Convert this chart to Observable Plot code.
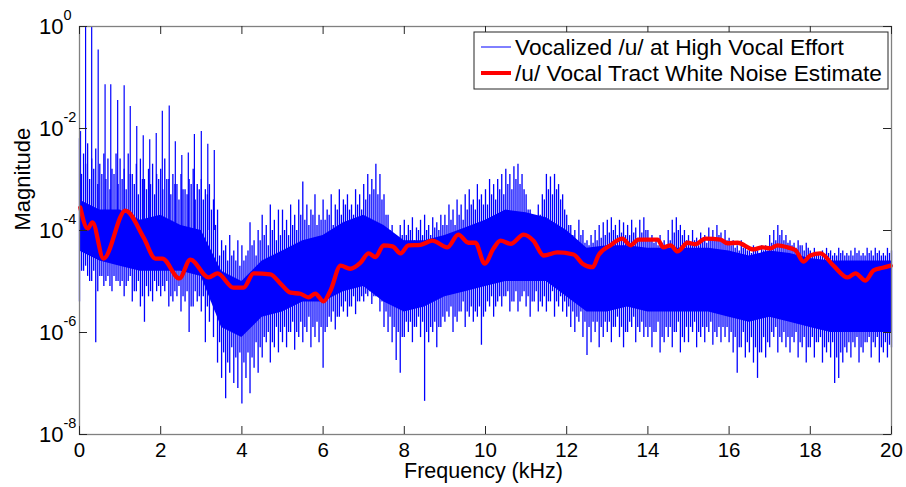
<!DOCTYPE html>
<html>
<head>
<meta charset="utf-8">
<script src="https://cdn.jsdelivr.net/npm/d3@7"></script>
<script src="https://cdn.jsdelivr.net/npm/@observablehq/plot@0.6"></script>
<style>
  html, body { margin: 0; padding: 0; background: #fff; }
  #chart svg { display: block; font-family: "Liberation Sans", Arial, sans-serif; }
</style>
</head>
<body>
<div id="chart"></div>
<script>
// ---------------- DATA (values are log10 of magnitude) ----------------
const xTicks = [0, 2, 4, 6, 8, 10, 12, 14, 16, 18, 20];
const yTickExponents = [0, -2, -4, -6, -8];
const seriesNames = ["Vocalized /u/ at High Vocal Effort", "/u/ Vocal Tract White Noise Estimate"];

// dense core band of the spectrum, sampled every 0.5 kHz (0 ... 20 kHz)
const coreFreq = [0,0.5,1,1.5,2,2.5,3,3.5,4,4.5,5,5.5,6,6.5,7,7.5,8,8.5,9,9.5,10,10.5,11,11.5,12,12.5,13,13.5,14,14.5,15,15.5,16,16.5,17,17.5,18,18.5,19,19.5,20];
const coreHiLog = [-3.4,-3.6,-3.6,-3.8,-3.7,-3.9,-4.0,-4.8,-5.0,-4.6,-4.4,-4.2,-4.1,-3.85,-3.7,-3.9,-4.2,-4.2,-4.1,-3.95,-3.8,-3.6,-3.65,-3.75,-4.0,-4.35,-4.3,-4.3,-4.35,-4.35,-4.35,-4.35,-4.4,-4.5,-4.4,-4.45,-4.55,-4.6,-4.6,-4.6,-4.6];
const coreLoLog = [-4.4,-4.6,-4.7,-4.8,-4.8,-4.8,-4.9,-5.9,-6.1,-5.7,-5.6,-5.4,-5.4,-5.2,-5.1,-5.4,-5.6,-5.5,-5.3,-5.2,-5.1,-5.0,-5.0,-5.0,-5.3,-5.6,-5.6,-5.5,-5.6,-5.6,-5.6,-5.6,-5.7,-5.8,-5.7,-5.8,-5.9,-6.0,-6.0,-6.0,-6.0];

// tallest spike extremes every 0.1 kHz (0.0 ... 20.0 kHz)
const spikeTopLog = [
  -2.2,-2.5,-2.3,-2.6,-2.4,-2.7,-2.5,-2.6,-2.8,-2.5,
  -2.6,-2.8,-2.5,-2.9,-2.7,-2.6,-3.0,-2.8,-2.7,-2.9,
  -2.8,-2.6,-3.0,-2.9,-3.1,-2.9,-3.2,-3.0,-2.8,-3.1,
  -3.0,-3.2,-3.1,-3.4,-3.6,-4.2,-4.3,-4.1,-4.4,-4.2,
  -4.3,-4.5,-3.85,-4.2,-4.0,-3.7,-3.9,-3.5,-3.8,-3.6,
  -3.6,-3.8,-3.5,-3.7,-3.4,-3.05,-3.5,-3.6,-3.3,-3.7,
  -3.4,-3.6,-3.3,-3.5,-3.2,-3.4,-3.3,-3.5,-3.2,-3.3,
  -3.1,-2.9,-3.0,-2.7,-2.9,-3.3,-3.7,-3.9,-4.1,-3.9,
  -3.8,-3.9,-3.75,-3.95,-3.8,-3.7,-3.9,-3.75,-3.85,-3.7,
  -3.7,-3.5,-3.6,-3.4,-3.5,-3.3,-3.2,-3.4,-3.1,-3.3,
  -3.2,-3.0,-3.1,-3.0,-2.9,-2.8,-2.9,-2.75,-2.7,-2.9,
  -3.3,-3.6,-3.8,-3.5,-3.3,-2.9,-2.95,-2.9,-3.1,-3.3,
  -3.7,-3.9,-4.0,-3.8,-4.0,-4.2,-4.1,-4.0,-3.9,-3.85,
  -3.8,-3.75,-3.9,-3.8,-3.85,-3.9,-3.8,-3.95,-3.8,-3.75,
  -4.0,-4.1,-4.2,-4.1,-4.2,-4.0,-3.8,-3.75,-3.9,-4.0,
  -4.1,-4.0,-4.15,-4.05,-4.1,-3.95,-4.0,-3.9,-4.05,-4.0,
  -4.15,-4.2,-4.3,-4.2,-4.3,-4.35,-4.3,-4.4,-4.3,-4.3,
  -4.1,-4.0,-3.9,-4.0,-4.1,-4.2,-4.25,-4.2,-4.3,-4.25,
  -4.4,-4.35,-4.45,-4.4,-4.35,-4.4,-4.45,-4.35,-4.4,-4.45,
  -4.4,-4.35,-4.4,-4.45,-4.35,-4.4,-4.35,-4.4,-4.45,-4.35,
  -4.4
];
const spikeBottomLog = [
  -5.4,-4.8,-4.9,-5.0,-6.2,-4.9,-5.1,-4.9,-5.2,-5.0,
  -5.1,-5.3,-5.0,-5.4,-5.2,-5.5,-5.8,-5.3,-5.4,-5.2,
  -5.3,-5.2,-5.5,-5.4,-5.3,-5.6,-5.4,-6.0,-5.5,-5.4,
  -5.6,-6.2,-5.8,-6.1,-6.6,-6.9,-7.3,-6.8,-7.0,-7.1,
  -7.4,-6.9,-7.2,-6.7,-6.8,-6.5,-6.2,-6.6,-6.3,-6.4,
  -6.2,-6.3,-6.0,-6.35,-6.1,-6.2,-6.0,-6.3,-6.1,-6.2,
  -6.7,-5.9,-5.8,-5.95,-5.7,-5.6,-5.7,-5.5,-5.65,-5.4,
  -5.4,-5.3,-5.45,-5.3,-5.6,-5.9,-6.0,-6.2,-6.55,-6.8,
  -6.1,-6.0,-6.2,-5.9,-6.1,-7.35,-6.2,-6.0,-6.3,-5.9,
  -5.8,-5.7,-6.0,-5.8,-5.6,-5.9,-5.7,-5.8,-5.7,-6.25,
  -5.6,-5.5,-5.7,-5.4,-5.5,-5.3,-5.6,-5.4,-5.6,-5.3,
  -5.5,-5.7,-5.4,-5.6,-5.5,-5.6,-5.4,-5.7,-5.5,-5.6,
  -5.7,-5.9,-6.0,-5.8,-6.1,-6.45,-6.2,-6.0,-6.3,-6.1,
  -6.0,-6.2,-5.9,-6.1,-6.3,-6.0,-5.9,-6.2,-6.0,-6.1,
  -6.1,-6.3,-6.0,-6.4,-6.2,-6.1,-6.3,-6.0,-6.4,-6.2,
  -6.2,-6.0,-6.3,-6.1,-6.2,-6.0,-6.25,-6.1,-6.2,-6.1,
  -6.2,-6.4,-6.8,-6.3,-6.5,-6.4,-6.6,-6.9,-6.4,-6.5,
  -6.3,-6.1,-6.4,-6.2,-6.3,-6.4,-6.2,-6.5,-6.3,-6.6,
  -6.3,-6.5,-6.2,-6.6,-6.4,-6.5,-7.0,-6.9,-6.6,-6.4,
  -6.5,-6.3,-6.6,-6.4,-6.2,-6.5,-6.3,-6.6,-6.4,-6.5,
  -6.3
];

// shorter in-between spikes at 0.05, 0.15, ... 19.95 kHz
const midTopLog = [
  -2.9,-2.7,-3.0,-2.8,-3.1,-2.9,-3.0,-3.2,-2.9,-3.1,
  -3.0,-3.2,-2.9,-3.1,-3.3,-3.0,-3.2,-3.1,-3.3,-3.0,
  -3.2,-3.0,-3.3,-3.1,-3.4,-3.2,-3.3,-3.1,-3.4,-3.2,
  -3.4,-3.3,-3.6,-3.9,-4.5,-4.4,-4.6,-4.5,-4.6,-4.7,
  -4.6,-4.4,-4.3,-4.5,-4.2,-4.1,-4.3,-4.0,-4.2,-4.1,
  -4.0,-4.1,-3.9,-4.0,-3.7,-3.8,-3.9,-3.7,-3.9,-3.8,
  -3.8,-3.7,-3.9,-3.6,-3.7,-3.5,-3.6,-3.7,-3.5,-3.6,
  -3.4,-3.3,-3.2,-3.3,-3.4,-3.7,-4.0,-4.2,-4.3,-4.1,
  -4.1,-4.0,-4.2,-4.0,-4.1,-4.0,-4.1,-3.95,-4.0,-3.9,
  -3.9,-3.8,-3.9,-3.7,-3.8,-3.6,-3.5,-3.6,-3.4,-3.5,
  -3.5,-3.3,-3.4,-3.2,-3.3,-3.1,-3.2,-3.0,-3.1,-3.2,
  -3.6,-3.8,-3.9,-3.7,-3.4,-3.2,-3.3,-3.2,-3.4,-3.6,
  -3.9,-4.1,-4.2,-4.1,-4.25,-4.3,-4.25,-4.2,-4.15,-4.1,
  -4.05,-4.0,-4.1,-4.05,-4.1,-4.1,-4.05,-4.15,-4.05,-4.0,
  -4.2,-4.25,-4.3,-4.25,-4.3,-4.2,-4.05,-4.0,-4.1,-4.2,
  -4.25,-4.2,-4.3,-4.2,-4.25,-4.15,-4.2,-4.1,-4.2,-4.2,
  -4.3,-4.35,-4.4,-4.35,-4.4,-4.45,-4.4,-4.5,-4.4,-4.4,
  -4.25,-4.2,-4.1,-4.2,-4.25,-4.3,-4.35,-4.3,-4.4,-4.35,
  -4.5,-4.45,-4.5,-4.5,-4.45,-4.5,-4.5,-4.45,-4.5,-4.5,
  -4.5,-4.45,-4.5,-4.5,-4.45,-4.5,-4.45,-4.5,-4.5,-4.45
];
const midBottomLog = [
  -4.8,-4.7,-5.0,-4.8,-5.2,-4.9,-5.0,-5.1,-4.9,-5.0,
  -5.0,-5.1,-4.9,-5.2,-5.0,-5.3,-5.1,-5.2,-5.0,-5.1,
  -5.1,-5.0,-5.3,-5.2,-5.1,-5.3,-5.2,-5.5,-5.2,-5.3,
  -5.3,-5.5,-5.4,-5.6,-6.2,-6.4,-6.6,-6.3,-6.5,-6.4,
  -6.6,-6.4,-6.5,-6.2,-6.3,-6.1,-6.0,-6.2,-5.9,-6.0,
  -5.9,-6.0,-5.8,-6.0,-5.8,-5.9,-5.7,-5.9,-5.8,-5.9,
  -6.0,-5.7,-5.6,-5.7,-5.5,-5.4,-5.5,-5.3,-5.4,-5.3,
  -5.25,-5.2,-5.3,-5.2,-5.4,-5.6,-5.7,-5.9,-6.0,-6.1,
  -5.8,-5.8,-5.9,-5.7,-5.8,-6.0,-5.9,-5.8,-5.9,-5.7,
  -5.6,-5.5,-5.7,-5.6,-5.4,-5.6,-5.5,-5.6,-5.5,-5.7,
  -5.4,-5.3,-5.5,-5.3,-5.3,-5.2,-5.4,-5.2,-5.4,-5.2,
  -5.3,-5.4,-5.2,-5.4,-5.3,-5.4,-5.2,-5.4,-5.3,-5.4,
  -5.5,-5.6,-5.7,-5.6,-5.8,-5.9,-5.8,-5.8,-5.9,-5.8,
  -5.8,-5.9,-5.7,-5.9,-6.0,-5.8,-5.7,-5.9,-5.8,-5.9,
  -5.9,-6.0,-5.8,-6.1,-5.9,-5.9,-6.0,-5.8,-6.1,-5.9,
  -5.9,-5.8,-6.0,-5.9,-5.9,-5.8,-6.0,-5.9,-5.9,-5.9,
  -6.0,-6.1,-6.3,-6.0,-6.2,-6.1,-6.3,-6.4,-6.1,-6.2,
  -6.0,-5.9,-6.1,-6.0,-6.1,-6.1,-6.0,-6.2,-6.1,-6.3,
  -6.1,-6.2,-6.1,-6.3,-6.2,-6.2,-6.5,-6.4,-6.3,-6.2,
  -6.2,-6.1,-6.3,-6.2,-6.1,-6.2,-6.1,-6.3,-6.2,-6.25
];

// low-frequency harmonic peaks (kHz, log10 peak)
const harmonicFreq = [0.025,0.15,0.30,0.46,0.63,0.77,0.94,1.10,1.25,1.41,1.57,1.73,1.89,2.04,2.21,2.36,2.52,2.68,2.83,3.00,3.16,3.32];
const harmonicPeakLog = [-2.06,0.2,0.2,-0.46,-1.14,-1.14,-1.45,-1.16,-1.57,-1.96,-2.14,-2.22,-2.10,-1.66,-1.56,-2.26,-2.53,-2.48,-2.12,-2.06,-2.31,-2.43];
const harmonicBaseLog = -4;

// red white-noise estimate (kHz, log10 magnitude)
const noiseFreq = [0.02,0.20,0.32,0.59,1.13,1.58,1.87,2.04,2.46,2.73,3.18,3.40,3.79,4.04,4.29,4.70,4.95,5.20,5.44,5.64,5.81,6.01,6.18,6.43,6.67,6.92,7.12,7.29,7.49,7.71,7.91,8.10,8.40,8.69,9.06,9.33,9.58,9.75,9.98,10.20,10.37,10.62,10.94,11.18,11.43,11.77,12.17,12.39,12.64,12.78,13.08,13.37,13.57,13.77,14.24,14.38,14.56,14.73,14.98,15.17,15.42,15.79,15.96,16.21,16.60,16.82,17.02,17.19,17.44,17.64,17.83,18.00,18.25,18.57,18.92,19.11,19.36,19.56,19.78,19.98];
const noiseLog = [-3.55,-3.96,-3.84,-4.55,-3.61,-4.14,-4.55,-4.55,-4.94,-4.57,-4.92,-4.84,-5.12,-5.12,-4.84,-4.86,-5.04,-5.22,-5.24,-5.31,-5.24,-5.39,-5.18,-4.69,-4.75,-4.63,-4.45,-4.52,-4.29,-4.31,-4.45,-4.29,-4.28,-4.20,-4.33,-4.08,-4.24,-4.24,-4.65,-4.35,-4.20,-4.26,-4.08,-4.20,-4.49,-4.43,-4.47,-4.65,-4.72,-4.49,-4.29,-4.16,-4.29,-4.18,-4.18,-4.33,-4.29,-4.41,-4.24,-4.27,-4.16,-4.18,-4.25,-4.24,-4.37,-4.33,-4.35,-4.29,-4.33,-4.39,-4.61,-4.49,-4.45,-4.69,-4.92,-4.84,-4.98,-4.78,-4.73,-4.69];

// ---------------- build tables ----------------
const pow = v => Math.pow(10, v);
const coreRows = coreFreq.map((f, i) => ({f, lo: pow(coreLoLog[i]), hi: pow(coreHiLog[i])}));
const spikeRows = spikeTopLog.map((t, i) => ({f: i / 10, lo: pow(spikeBottomLog[i]), hi: pow(t)}));
const midRows = midTopLog.map((t, i) => ({f: i / 10 + 0.05, lo: pow(midBottomLog[i]), hi: pow(t)}));
const harmonicRows = harmonicFreq.map((f, i) => ({f, lo: pow(harmonicBaseLog), hi: pow(harmonicPeakLog[i])}));
const noiseRows = noiseFreq.map((f, i) => ({f, m: pow(noiseLog[i])}));
const yTicks = yTickExponents.map(pow);

const W = 906, H = 487;
const mL = 79, mR = 15, mT = 26, mB = 53;
const frameW = W - mL - mR, frameH = H - mT - mB;
const blue = "#0000ff", red = "#ff0000";
const font = "'Liberation Sans', Arial, sans-serif";

const chart = Plot.plot({
  width: W, height: H,
  marginLeft: mL, marginRight: mR, marginTop: mT, marginBottom: mB,
  style: {background: "#fff", fontFamily: font},
  x: {domain: [0, 20], axis: null},
  y: {type: "log", domain: [1e-8, 1], axis: null},
  marks: [
    Plot.areaY(coreRows, {x: "f", y1: "lo", y2: "hi", fill: blue}),
    Plot.ruleX(midRows, {x: "f", y1: "lo", y2: "hi", stroke: blue, strokeWidth: 1.3}),
    Plot.ruleX(spikeRows, {x: "f", y1: "lo", y2: "hi", stroke: blue, strokeWidth: 1.3}),
    Plot.ruleX(harmonicRows, {x: "f", y1: "lo", y2: "hi", stroke: blue, strokeWidth: 1.2, clip: true}),
    Plot.line(noiseRows, {x: "f", y: "m", stroke: red, strokeWidth: 4.3, curve: "monotone-x", strokeLinejoin: "round"}),
    Plot.frame({stroke: "#808080", strokeWidth: 1.3}),
    // inward tick marks on all four sides
    Plot.ruleX(xTicks, {x: d => d, insetTop: frameH - 8, stroke: "#262626"}),
    Plot.ruleX(xTicks, {x: d => d, insetBottom: frameH - 8, stroke: "#262626"}),
    Plot.ruleY(yTicks, {y: d => d, insetRight: frameW - 8, stroke: "#262626"}),
    Plot.ruleY(yTicks, {y: d => d, insetLeft: frameW - 8, stroke: "#262626"}),
    // tick labels
    Plot.text(xTicks, {x: d => d, frameAnchor: "bottom", dy: 16, lineAnchor: "middle", text: d => String(d), fontSize: 20.5, fill: "#000"}),
    Plot.text(yTicks, {y: d => d, frameAnchor: "left", dx: -16, textAnchor: "end", lineAnchor: "middle", text: () => "10", fontSize: 22, fill: "#000"}),
    Plot.text(yTicks, {y: d => d, frameAnchor: "left", dx: -16, dy: -11, textAnchor: "start", lineAnchor: "middle", text: (d, i) => String(yTickExponents[i]), fontSize: 14.5, fill: "#000"}),
    // axis labels
    Plot.text(["Frequency (kHz)"], {frameAnchor: "bottom", dy: 37, dx: -2, lineAnchor: "middle", text: d => d, fontSize: 21.5, fill: "#000"}),
    Plot.text(["Magnitude"], {frameAnchor: "left", dx: -57, rotate: -90, lineAnchor: "middle", text: d => d, fontSize: 22, fill: "#000"})
  ]
});

// legend box (top-right, inside the axes)
const svg = d3.select(chart);
const lg = svg.append("g").attr("font-family", font).attr("font-size", 22.7).attr("text-anchor", "start");
lg.append("rect").attr("x", 474).attr("y", 32).attr("width", 414).attr("height", 57)
  .attr("fill", "#fff").attr("stroke", "#262626").attr("stroke-width", 1);
const rows = [
  {name: seriesNames[0], color: blue, w: 1, y: 47},
  {name: seriesNames[1], color: red, w: 4, y: 73}
];
rows.forEach(r => {
  lg.append("line").attr("x1", 481).attr("x2", 511).attr("y1", r.y).attr("y2", r.y)
    .attr("stroke", r.color).attr("stroke-width", r.w);
  lg.append("text").attr("x", 515).attr("y", r.y).attr("dy", "0.35em")
    .attr("text-anchor", "start").attr("fill", "#000").text(r.name);
});

document.getElementById("chart").appendChild(chart);
</script>
</body>
</html>
